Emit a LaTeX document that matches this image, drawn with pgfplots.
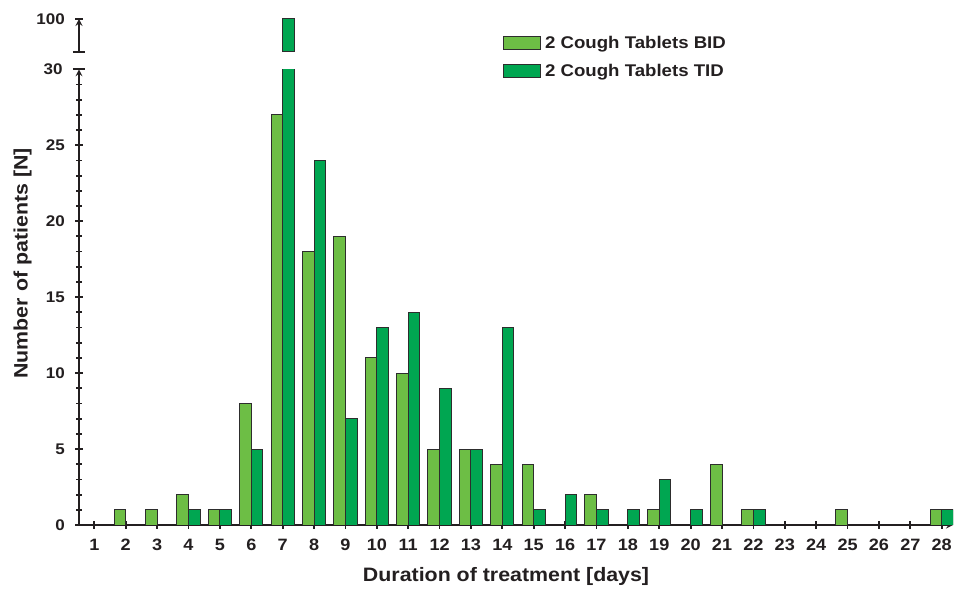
\documentclass[border=0pt]{standalone}
\usepackage{fontspec}
\setmainfont{Liberation Sans}[FakeStretch=1.1]
\usepackage{pgfplots}
\pgfplotsset{compat=1.18}
\definecolor{bidgreen}{RGB}{109,190,69}
\definecolor{tidgreen}{RGB}{0,166,81}
\definecolor{edge}{RGB}{45,45,45}
\definecolor{txt}{RGB}{35,31,32}
\begin{document}
\begin{tikzpicture}
\path[use as bounding box] (0,0) rectangle (954bp,590bp);
\pgfplotsset{
  common/.style={
    scale only axis, width=874bp,
    xmin=0.51, xmax=28.36,
    axis line style={-, line width=2bp, color=txt},
    every tick/.style={line width=1.8bp, color=txt},
    tick align=outside,
    major tick length=7.5bp, minor tick length=5.5bp,
    /pgf/number format/assume math mode=true,
    yticklabel style={font=\fontsize{15.5}{17}\selectfont\bfseries, text=txt, xshift=-7bp},
    xticklabel style={font=\fontsize{16.5}{18}\selectfont\bfseries, text=txt, yshift=-7bp},
  },
  barstyle/.style={ybar, bar width=0.37, draw=edge, line width=1bp},
}
\begin{axis}[common,
  at={(79bp,65bp)}, anchor=south west,
  height=455.7bp,
  ymin=0, ymax=30,
  axis x line=bottom, axis y line=left,
  xtick={1,...,28},
  ytick={0,5,...,25},
  minor ytick={1,...,29},
  extra y ticks={30},
  extra y tick style={tick align=center, major tick length=12bp},
  xlabel={Duration of treatment [days]},
  ylabel={Number of patients [N]},
  xlabel style={at={(axis description cs:0.4886,-0.114)}, anchor=center, font=\fontsize{19.5}{22}\selectfont\bfseries, text=txt},
  ylabel style={at={(axis description cs:-0.0646,0.574)}, anchor=center, font=\fontsize{19.5}{22}\selectfont\bfseries, text=txt},
  legend style={draw=none, fill=none, at={(axis description cs:0.485,1.078)}, anchor=north west,
    inner sep=0pt, row sep=10.5bp, column sep=2bp, font=\fontsize{17}{19}\selectfont\bfseries, text=txt},
  legend cell align=left,
  legend image code/.code={\draw[#1, line width=1bp] (0bp,-6.5bp) rectangle (37bp,6.5bp);},
]
\addplot[barstyle, fill=bidgreen, bar shift=-0.185] coordinates {
 (2,1) (3,1) (4,2) (5,1) (6,8) (7,27) (8,18) (9,19) (10,11) (11,10) (12,5) (13,5) (14,4) (15,4)
 (17,2) (19,1) (21,4) (22,1) (25,1) (28,1)};
\addlegendentry{2 Cough Tablets BID}
\addplot[barstyle, fill=tidgreen, bar shift=0.185] coordinates {
 (4,1) (5,1) (6,5) (7,100) (8,24) (9,7) (10,13) (11,14) (12,9) (13,5) (14,13) (15,1)
 (16,2) (17,1) (18,1) (19,3) (20,1) (22,1) (28,1)};
\addlegendentry{2 Cough Tablets TID}
\end{axis}
\begin{axis}[common,
  at={(79bp,538.3bp)}, anchor=south west,
  height=32.7bp,
  ymin=98, ymax=100,
  axis x line=none, axis y line=left,
  ytick={100},
  extra y ticks={98},
  extra y tick labels={},
  extra y tick style={tick align=center, major tick length=12bp},
]
\addplot[barstyle, fill=tidgreen, bar shift=0.185] coordinates {(7,100)};
\end{axis}
\end{tikzpicture}
\end{document}
